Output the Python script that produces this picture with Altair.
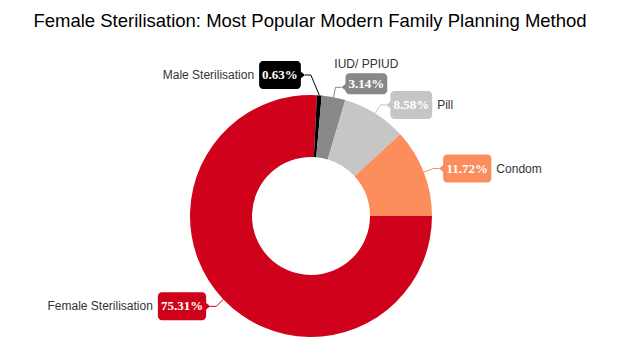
import altair as alt
import pandas as pd

# ---- data ----
categories = ["Female Sterilisation", "Male Sterilisation", "IUD/ PPIUD", "Pill", "Condom"]
values = [75.31, 0.63, 3.14, 8.58, 11.72]
colors = ["#d0021b", "#000000", "#888888", "#c6c6c6", "#fc8d5d"]

df = pd.DataFrame({
    "cat": categories,
    "value": values,
    "color": colors,
    "idx": list(range(len(categories))),
})

# ---- layout constants (pixels in the view) ----
TOP = 50
W, H = 620, 354 - TOP
CX, CY = 311, 216 - TOP
R_OUT, R_IN = 121, 59
R_ELBOW, R_ELBOW_LIFT = 131, 141
MALE = "Male Sterilisation"
IUD = "IUD/ PPIUD"

base = (
    alt.Chart(df)
    .transform_joinaggregate(total="sum(value)")
    .transform_window(cum="sum(value)", sort=[alt.SortField("idx")])
    .transform_calculate(
        a0="PI/2 + 2*PI*(datum.cum - datum.value)/datum.total",
        a1="PI/2 + 2*PI*datum.cum/datum.total",
        pct="format(datum.value, '.2f') + '%'",
    )
    .transform_calculate(mid="(datum.a0 + datum.a1)/2")
    .transform_calculate(
        side=f"datum.cat == '{MALE}' ? -1 : (sin(datum.mid) >= 0 ? 1 : -1)",
        br=f"datum.cat == '{MALE}' ? {R_ELBOW_LIFT} : {R_ELBOW}",
        bang=f"datum.cat == '{MALE}' ? datum.mid - 4*PI/180 : datum.mid",
        ex=f"{CX} + {R_OUT}*sin(datum.mid)",
        ey=f"{CY} - {R_OUT}*cos(datum.mid)",
        bw="(length(datum.pct) - 2)*6.5 + 16.25 + 6",
        bh=f"datum.cat == '{IUD}' ? 21 : 28",
    )
    .transform_calculate(
        bx=f"{CX} + datum.br*sin(datum.bang)",
        by=f"{CY} - datum.br*cos(datum.bang)",
    )
    .transform_calculate(
        tx="datum.bx + datum.side*6",
        ty="datum.by",
    )
    .transform_calculate(
        bcy=f"datum.cat == '{IUD}' ? datum.ty - 3.5 : datum.ty",
        bx0="datum.side > 0 ? datum.tx + 4 : datum.tx - 4 - datum.bw",
        trix="datum.tx + datum.side*3",
        tri="datum.side > 0 ? 'M-0.6,0L0.6,-1L0.6,1Z' : 'M0.6,0L-0.6,-1L-0.6,1Z'",
        namepos=f"datum.cat == '{IUD}' ? 'top' : (datum.side > 0 ? 'right' : 'left')",
    )
    .transform_calculate(
        bx1="datum.bx0 + datum.bw",
        by0="datum.bcy - datum.bh/2",
        by1="datum.bcy + datum.bh/2",
    )
    .transform_calculate(
        bcx="(datum.bx0 + datum.bx1)/2",
        nx="datum.namepos == 'top' ? (datum.bx0 + datum.bx1)/2 : (datum.side > 0 ? datum.bx1 + 5 : datum.bx0 - 5)",
        ny="datum.namepos == 'top' ? datum.by0 - 9.5 : datum.ty",
    )
)

col = alt.Color("color:N", scale=None)

arcs = base.mark_arc(innerRadius=R_IN, outerRadius=R_OUT).encode(
    theta=alt.Theta("a0:Q", scale=None, stack=False),
    theta2="a1:Q",
    x=alt.value(CX),
    y=alt.value(CY),
    color=col,
)

lead1 = base.mark_rule(strokeWidth=1).encode(
    x=alt.X("ex:Q", scale=None), y=alt.Y("ey:Q", scale=None),
    x2="bx:Q", y2="by:Q", color=col,
)
lead2 = base.mark_rule(strokeWidth=1).encode(
    x=alt.X("bx:Q", scale=None), y=alt.Y("by:Q", scale=None),
    x2="tx:Q", y2="ty:Q", color=col,
)

boxes = base.mark_rect(cornerRadius=4).encode(
    x=alt.X("bx0:Q", scale=None), x2="bx1:Q",
    y=alt.Y("by0:Q", scale=None), y2="by1:Q",
    color=col,
)

pointers = base.mark_point(filled=True, opacity=1, size=100, strokeWidth=0).encode(
    x=alt.X("trix:Q", scale=None), y=alt.Y("ty:Q", scale=None),
    shape=alt.Shape("tri:N", scale=None),
    color=col,
)

pcts = base.mark_text(
    font="Liberation Serif", fontWeight="bold", fontSize=13, color="white",
    align="center", baseline="middle",
).encode(
    x=alt.X("bcx:Q", scale=None), y=alt.Y("bcy:Q", scale=None), text="pct:N",
)

name_style = dict(font="Arial", fontSize=12, color="#333333", baseline="middle")
names_r = base.transform_filter("datum.namepos == 'right'").mark_text(align="left", **name_style).encode(
    x=alt.X("nx:Q", scale=None), y=alt.Y("ny:Q", scale=None), text="cat:N")
names_l = base.transform_filter("datum.namepos == 'left'").mark_text(align="right", **name_style).encode(
    x=alt.X("nx:Q", scale=None), y=alt.Y("ny:Q", scale=None), text="cat:N")
names_t = base.transform_filter("datum.namepos == 'top'").mark_text(align="center", **name_style).encode(
    x=alt.X("nx:Q", scale=None), y=alt.Y("ny:Q", scale=None), text="cat:N")

chart = (
    alt.layer(arcs, lead1, lead2, boxes, pointers, pcts, names_r, names_l, names_t)
    .properties(
        width=W, height=H,
        autosize=alt.AutoSizeParams(type="none"),
        padding={"top": TOP, "left": 0, "right": 0, "bottom": 0},
        title=alt.TitleParams(
            "Female Sterilisation: Most Popular Modern Family Planning Method",
            font="Arial", fontSize=18.5, fontWeight="normal", color="#000000",
            anchor="middle", baseline="alphabetic", offset=5,
        ),
    )
    .configure(background="white", view=alt.ViewConfig(strokeWidth=0))
)

chart.save("out.html", embed_options={"renderer": "svg", "actions": False})
